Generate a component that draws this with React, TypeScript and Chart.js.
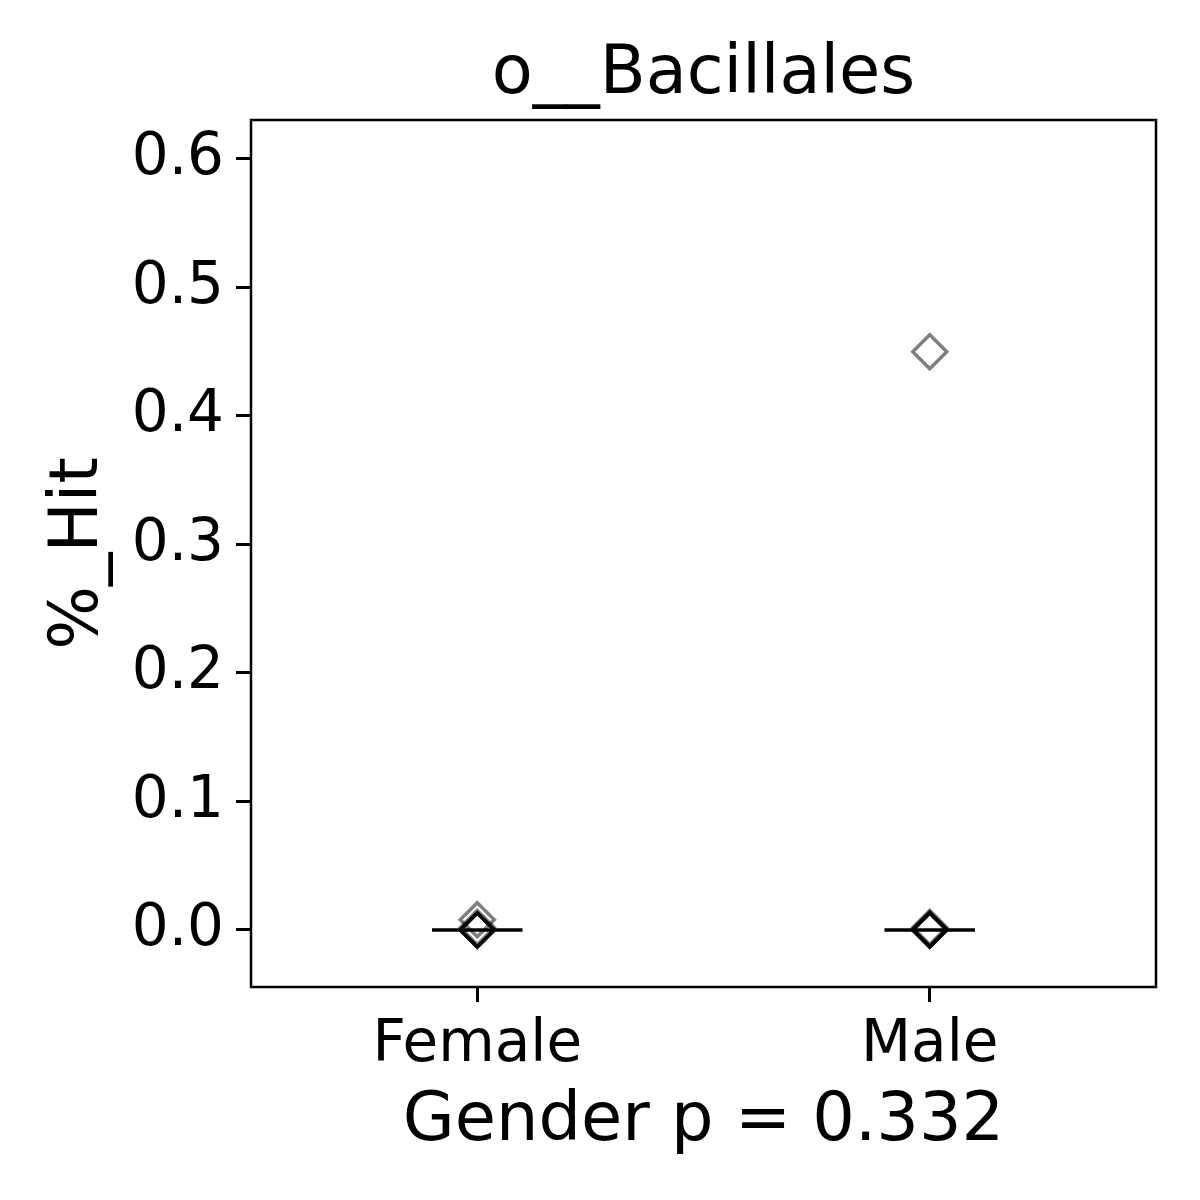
import React, { useEffect, useRef } from "react";
import { Chart, registerables } from "chart.js";

Chart.register(...registerables);

const TITLE = "o__Bacillales";
const X_TITLE = "Gender p = 0.332";
const Y_TITLE = "%_Hit";
const CATEGORIES = ["Female", "Male"];
const FEMALE_VALUES = [0.008, 0.002, 0, 0, 0, 0, 0];
const MALE_VALUES = [0.45, 0.002, 0.001, 0, 0, 0, 0, 0];
const MEDIANS = [0, 0];
const Y_TICKS = [0, 0.1, 0.2, 0.3, 0.4, 0.5, 0.6];
const Y_MIN = -0.0444;
const Y_MAX = 0.6303;

const FONT = "'DejaVu Sans', sans-serif";

const framePlugin = {
  id: "frame",
  afterDraw(chart: any) {
    const { ctx, chartArea } = chart;
    ctx.save();
    ctx.strokeStyle = "#000";
    ctx.lineWidth = 2.5;
    ctx.strokeRect(chartArea.left, chartArea.top, chartArea.right - chartArea.left, chartArea.bottom - chartArea.top);
    ctx.restore();
  },
};

export default function App() {
  const ref = useRef<HTMLCanvasElement>(null);
  useEffect(() => {
    if (!ref.current) return;
    const groups = [FEMALE_VALUES, MALE_VALUES];
    const pointSets = groups.map((vals, i) => ({
      type: "scatter" as const,
      label: CATEGORIES[i],
      data: vals.map((v) => ({ x: i, y: v })),
      pointStyle: "rectRot",
      pointRadius: 17,
      pointBorderWidth: 3.5,
      pointBorderColor: "rgba(0,0,0,0.5)",
      pointBackgroundColor: "rgba(0,0,0,0)",
      showLine: false,
      order: 1,
    }));
    const medianSets = MEDIANS.map((m, i) => ({
      type: "line" as const,
      label: "median " + CATEGORIES[i],
      data: [
        { x: i - 0.1, y: m },
        { x: i + 0.1, y: m },
      ],
      borderColor: "#000",
      borderWidth: 3.5,
      pointRadius: 0,
      fill: false,
      order: 0,
    }));
    const chart = new Chart(ref.current, {
      type: "scatter",
      data: { datasets: [...medianSets, ...pointSets] as any },
      plugins: [framePlugin],
      options: {
        animation: false,
        responsive: false,
        events: [],
        layout: { padding: { left: 0, right: 44, top: 0, bottom: 0 } },
        plugins: {
          legend: { display: false },
          tooltip: { enabled: false },
          title: {
            display: true,
            fullSize: false,
            text: TITLE,
            color: "#000",
            font: { family: FONT, size: 67, weight: "normal", lineHeight: 1.2 },
            padding: { top: 35, bottom: 4.6 },
          },
        },
        scales: {
          x: {
            type: "linear",
            min: -0.5,
            max: 1.5,
            afterBuildTicks: (scale: any) => {
              scale.ticks = CATEGORIES.map((_, i) => ({ value: i }));
            },
            afterFit: (scale: any) => {
              scale.height = 213;
            },
            ticks: {
              color: "#000",
              font: { family: FONT, size: 58, lineHeight: 1.2 },
              padding: 9,
              maxRotation: 0,
              autoSkip: false,
              callback: (v: any) => CATEGORIES[Math.round(Number(v))] ?? "",
            },
            grid: { drawOnChartArea: false, drawTicks: true, tickLength: 15, tickWidth: 3, tickColor: "#000", color: "#000" },
            border: { display: false },
            title: {
              display: true,
              text: X_TITLE,
              color: "#000",
              font: { family: FONT, size: 67, lineHeight: 1.2 },
              padding: { top: 0, bottom: 37 },
            },
          },
          y: {
            type: "linear",
            min: Y_MIN,
            max: Y_MAX,
            afterBuildTicks: (scale: any) => {
              scale.ticks = Y_TICKS.map((v) => ({ value: v }));
            },
            afterFit: (scale: any) => {
              scale.width = 251;
            },
            ticks: {
              color: "#000",
              font: { family: FONT, size: 58, lineHeight: 1.2 },
              padding: 12,
              autoSkip: false,
              callback: (v: any) => Number(v).toFixed(1),
            },
            grid: { drawOnChartArea: false, drawTicks: true, tickLength: 15, tickWidth: 3, tickColor: "#000", color: "#000" },
            border: { display: false },
            title: {
              display: true,
              text: Y_TITLE,
              color: "#000",
              font: { family: FONT, size: 67, lineHeight: 1.2 },
              padding: { top: 39, bottom: 0 },
            },
          },
        },
      } as any,
    });
    return () => chart.destroy();
  }, []);
  return (
    <div style={{ position: "fixed", left: 0, top: 0, width: 1200, height: 1200, background: "#fff" }}>
      <canvas ref={ref} width={1200} height={1200} style={{ display: "block" }} />
    </div>
  );
}
